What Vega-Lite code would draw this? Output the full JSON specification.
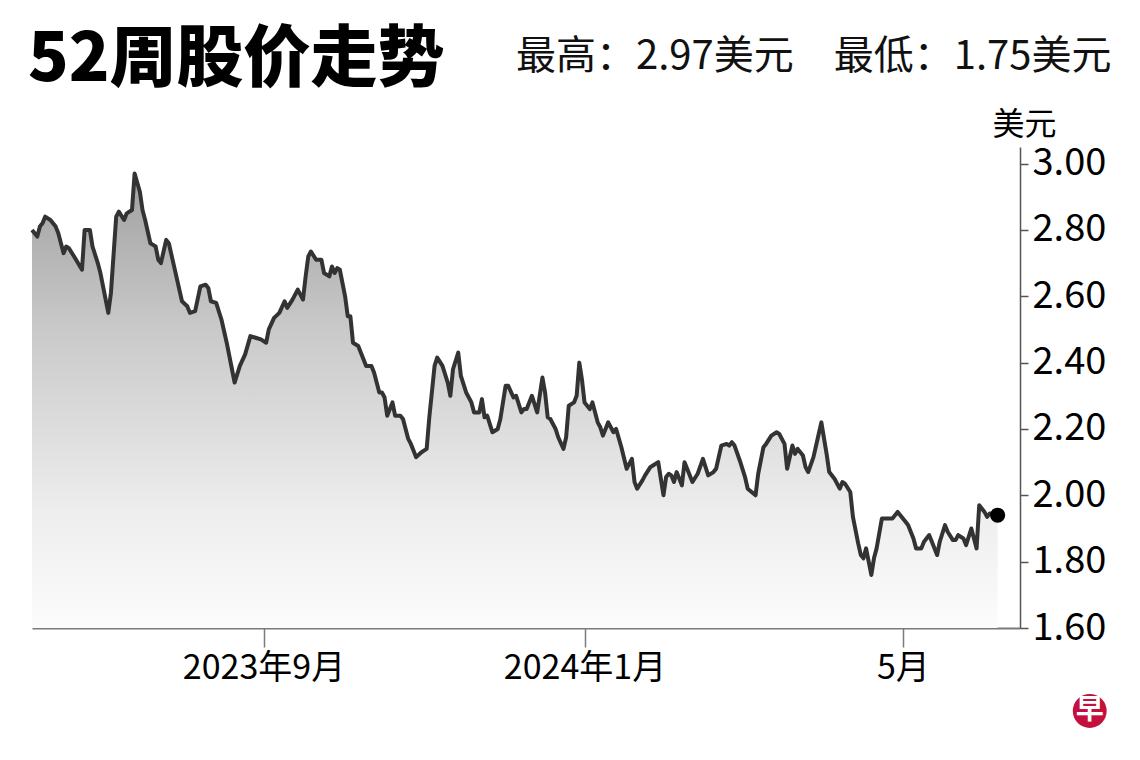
{
  "$schema": "https://vega.github.io/schema/vega-lite/v6.json",
  "width": 988,
  "height": 481,
  "autosize": {"type": "none"},
  "padding": {"left": 32, "top": 147, "right": 120, "bottom": 132},
  "background": "white",
  "config": {"view": {"stroke": null}, "font": "Noto Sans CJK SC"},

  "title": {
    "text": "52周股价走势",
    "subtitle": "\u200b\u3000\u3000\u3000\u3000\u3000\u3000\u3000\u3000\u3000\u3000\u3000\u3000\u2009最高：2.97美元\u3000最低：1.75美元",
    "anchor": "start",
    "frame": "group",
    "font": "Noto Sans CJK SC",
    "fontSize": 67,
    "fontWeight": 900,
    "color": "black",
    "subtitleFont": "Noto Sans CJK SC",
    "subtitleFontSize": 40,
    "subtitleColor": "#111111",
    "subtitlePadding": -58,
    "dx": -4,
    "offset": 13
  },

  "datasets": {
    "prices": [
      {"date": "2023-06-05", "price": 2.80},
      {"date": "2023-06-07", "price": 2.78},
      {"date": "2023-06-08", "price": 2.81},
      {"date": "2023-06-09", "price": 2.82},
      {"date": "2023-06-10", "price": 2.84},
      {"date": "2023-06-12", "price": 2.83},
      {"date": "2023-06-14", "price": 2.81},
      {"date": "2023-06-15", "price": 2.79},
      {"date": "2023-06-16", "price": 2.76},
      {"date": "2023-06-17", "price": 2.73},
      {"date": "2023-06-18", "price": 2.75},
      {"date": "2023-06-19", "price": 2.745},
      {"date": "2023-06-21", "price": 2.72},
      {"date": "2023-06-24", "price": 2.68},
      {"date": "2023-06-25", "price": 2.80},
      {"date": "2023-06-27", "price": 2.80},
      {"date": "2023-06-28", "price": 2.75},
      {"date": "2023-06-30", "price": 2.70},
      {"date": "2023-07-01", "price": 2.67},
      {"date": "2023-07-04", "price": 2.55},
      {"date": "2023-07-05", "price": 2.61},
      {"date": "2023-07-07", "price": 2.84},
      {"date": "2023-07-08", "price": 2.855},
      {"date": "2023-07-10", "price": 2.83},
      {"date": "2023-07-11", "price": 2.85},
      {"date": "2023-07-13", "price": 2.86},
      {"date": "2023-07-14", "price": 2.97},
      {"date": "2023-07-16", "price": 2.915},
      {"date": "2023-07-17", "price": 2.86},
      {"date": "2023-07-18", "price": 2.83},
      {"date": "2023-07-20", "price": 2.76},
      {"date": "2023-07-21", "price": 2.755},
      {"date": "2023-07-22", "price": 2.75},
      {"date": "2023-07-23", "price": 2.71},
      {"date": "2023-07-24", "price": 2.70},
      {"date": "2023-07-26", "price": 2.77},
      {"date": "2023-07-27", "price": 2.76},
      {"date": "2023-07-29", "price": 2.69},
      {"date": "2023-08-01", "price": 2.585},
      {"date": "2023-08-03", "price": 2.57},
      {"date": "2023-08-04", "price": 2.55},
      {"date": "2023-08-06", "price": 2.555},
      {"date": "2023-08-08", "price": 2.63},
      {"date": "2023-08-10", "price": 2.635},
      {"date": "2023-08-11", "price": 2.625},
      {"date": "2023-08-12", "price": 2.585},
      {"date": "2023-08-14", "price": 2.58},
      {"date": "2023-08-16", "price": 2.53},
      {"date": "2023-08-18", "price": 2.46},
      {"date": "2023-08-20", "price": 2.38},
      {"date": "2023-08-21", "price": 2.34},
      {"date": "2023-08-23", "price": 2.39},
      {"date": "2023-08-25", "price": 2.425},
      {"date": "2023-08-27", "price": 2.48},
      {"date": "2023-08-29", "price": 2.475},
      {"date": "2023-08-31", "price": 2.47},
      {"date": "2023-09-02", "price": 2.46},
      {"date": "2023-09-03", "price": 2.50},
      {"date": "2023-09-05", "price": 2.535},
      {"date": "2023-09-07", "price": 2.55},
      {"date": "2023-09-09", "price": 2.585},
      {"date": "2023-09-10", "price": 2.565},
      {"date": "2023-09-12", "price": 2.59},
      {"date": "2023-09-14", "price": 2.62},
      {"date": "2023-09-16", "price": 2.59},
      {"date": "2023-09-17", "price": 2.66},
      {"date": "2023-09-18", "price": 2.72},
      {"date": "2023-09-19", "price": 2.735},
      {"date": "2023-09-21", "price": 2.71},
      {"date": "2023-09-23", "price": 2.71},
      {"date": "2023-09-24", "price": 2.67},
      {"date": "2023-09-26", "price": 2.66},
      {"date": "2023-09-27", "price": 2.69},
      {"date": "2023-09-28", "price": 2.67},
      {"date": "2023-09-29", "price": 2.685},
      {"date": "2023-09-30", "price": 2.68},
      {"date": "2023-10-02", "price": 2.60},
      {"date": "2023-10-03", "price": 2.54},
      {"date": "2023-10-04", "price": 2.54},
      {"date": "2023-10-05", "price": 2.46},
      {"date": "2023-10-07", "price": 2.45},
      {"date": "2023-10-08", "price": 2.43},
      {"date": "2023-10-10", "price": 2.39},
      {"date": "2023-10-12", "price": 2.39},
      {"date": "2023-10-13", "price": 2.37},
      {"date": "2023-10-15", "price": 2.31},
      {"date": "2023-10-16", "price": 2.31},
      {"date": "2023-10-17", "price": 2.295},
      {"date": "2023-10-18", "price": 2.24},
      {"date": "2023-10-20", "price": 2.28},
      {"date": "2023-10-21", "price": 2.24},
      {"date": "2023-10-23", "price": 2.24},
      {"date": "2023-10-24", "price": 2.23},
      {"date": "2023-10-26", "price": 2.17},
      {"date": "2023-10-27", "price": 2.155},
      {"date": "2023-10-29", "price": 2.115},
      {"date": "2023-10-31", "price": 2.13},
      {"date": "2023-11-02", "price": 2.14},
      {"date": "2023-11-03", "price": 2.235},
      {"date": "2023-11-05", "price": 2.39},
      {"date": "2023-11-06", "price": 2.415},
      {"date": "2023-11-08", "price": 2.39},
      {"date": "2023-11-10", "price": 2.34},
      {"date": "2023-11-11", "price": 2.30},
      {"date": "2023-11-12", "price": 2.38},
      {"date": "2023-11-14", "price": 2.43},
      {"date": "2023-11-15", "price": 2.36},
      {"date": "2023-11-17", "price": 2.31},
      {"date": "2023-11-19", "price": 2.28},
      {"date": "2023-11-20", "price": 2.25},
      {"date": "2023-11-22", "price": 2.25},
      {"date": "2023-11-23", "price": 2.29},
      {"date": "2023-11-24", "price": 2.235},
      {"date": "2023-11-25", "price": 2.24},
      {"date": "2023-11-27", "price": 2.19},
      {"date": "2023-11-29", "price": 2.20},
      {"date": "2023-11-30", "price": 2.23},
      {"date": "2023-12-02", "price": 2.33},
      {"date": "2023-12-03", "price": 2.33},
      {"date": "2023-12-05", "price": 2.295},
      {"date": "2023-12-06", "price": 2.30},
      {"date": "2023-12-08", "price": 2.25},
      {"date": "2023-12-09", "price": 2.26},
      {"date": "2023-12-10", "price": 2.26},
      {"date": "2023-12-12", "price": 2.30},
      {"date": "2023-12-14", "price": 2.25},
      {"date": "2023-12-16", "price": 2.355},
      {"date": "2023-12-17", "price": 2.31},
      {"date": "2023-12-18", "price": 2.235},
      {"date": "2023-12-19", "price": 2.23},
      {"date": "2023-12-21", "price": 2.20},
      {"date": "2023-12-22", "price": 2.175},
      {"date": "2023-12-24", "price": 2.14},
      {"date": "2023-12-25", "price": 2.175},
      {"date": "2023-12-26", "price": 2.27},
      {"date": "2023-12-28", "price": 2.28},
      {"date": "2023-12-29", "price": 2.30},
      {"date": "2023-12-30", "price": 2.40},
      {"date": "2023-12-31", "price": 2.35},
      {"date": "2024-01-01", "price": 2.28},
      {"date": "2024-01-03", "price": 2.26},
      {"date": "2024-01-04", "price": 2.28},
      {"date": "2024-01-06", "price": 2.22},
      {"date": "2024-01-07", "price": 2.205},
      {"date": "2024-01-08", "price": 2.18},
      {"date": "2024-01-10", "price": 2.22},
      {"date": "2024-01-12", "price": 2.19},
      {"date": "2024-01-13", "price": 2.20},
      {"date": "2024-01-15", "price": 2.145},
      {"date": "2024-01-17", "price": 2.08},
      {"date": "2024-01-19", "price": 2.11},
      {"date": "2024-01-20", "price": 2.04},
      {"date": "2024-01-21", "price": 2.02},
      {"date": "2024-01-23", "price": 2.045},
      {"date": "2024-01-24", "price": 2.06},
      {"date": "2024-01-26", "price": 2.085},
      {"date": "2024-01-27", "price": 2.09},
      {"date": "2024-01-29", "price": 2.10},
      {"date": "2024-01-31", "price": 2.00},
      {"date": "2024-02-01", "price": 2.055},
      {"date": "2024-02-02", "price": 2.065},
      {"date": "2024-02-03", "price": 2.06},
      {"date": "2024-02-04", "price": 2.04},
      {"date": "2024-02-05", "price": 2.07},
      {"date": "2024-02-07", "price": 2.03},
      {"date": "2024-02-08", "price": 2.10},
      {"date": "2024-02-09", "price": 2.08},
      {"date": "2024-02-11", "price": 2.04},
      {"date": "2024-02-13", "price": 2.065},
      {"date": "2024-02-15", "price": 2.11},
      {"date": "2024-02-17", "price": 2.06},
      {"date": "2024-02-19", "price": 2.07},
      {"date": "2024-02-20", "price": 2.08},
      {"date": "2024-02-22", "price": 2.15},
      {"date": "2024-02-24", "price": 2.155},
      {"date": "2024-02-25", "price": 2.15},
      {"date": "2024-02-26", "price": 2.16},
      {"date": "2024-02-27", "price": 2.15},
      {"date": "2024-02-29", "price": 2.105},
      {"date": "2024-03-02", "price": 2.055},
      {"date": "2024-03-03", "price": 2.02},
      {"date": "2024-03-06", "price": 2.00},
      {"date": "2024-03-07", "price": 2.065},
      {"date": "2024-03-09", "price": 2.145},
      {"date": "2024-03-10", "price": 2.155},
      {"date": "2024-03-12", "price": 2.18},
      {"date": "2024-03-14", "price": 2.19},
      {"date": "2024-03-15", "price": 2.185},
      {"date": "2024-03-17", "price": 2.155},
      {"date": "2024-03-18", "price": 2.08},
      {"date": "2024-03-20", "price": 2.15},
      {"date": "2024-03-21", "price": 2.125},
      {"date": "2024-03-22", "price": 2.14},
      {"date": "2024-03-24", "price": 2.12},
      {"date": "2024-03-25", "price": 2.085},
      {"date": "2024-03-26", "price": 2.07},
      {"date": "2024-03-28", "price": 2.115},
      {"date": "2024-03-30", "price": 2.185},
      {"date": "2024-03-31", "price": 2.22},
      {"date": "2024-04-02", "price": 2.125},
      {"date": "2024-04-03", "price": 2.07},
      {"date": "2024-04-05", "price": 2.05},
      {"date": "2024-04-07", "price": 2.02},
      {"date": "2024-04-08", "price": 2.04},
      {"date": "2024-04-09", "price": 2.035},
      {"date": "2024-04-11", "price": 2.01},
      {"date": "2024-04-12", "price": 1.935},
      {"date": "2024-04-14", "price": 1.855},
      {"date": "2024-04-15", "price": 1.82},
      {"date": "2024-04-16", "price": 1.81},
      {"date": "2024-04-17", "price": 1.84},
      {"date": "2024-04-19", "price": 1.76},
      {"date": "2024-04-20", "price": 1.81},
      {"date": "2024-04-21", "price": 1.84},
      {"date": "2024-04-23", "price": 1.93},
      {"date": "2024-04-25", "price": 1.93},
      {"date": "2024-04-27", "price": 1.93},
      {"date": "2024-04-29", "price": 1.95},
      {"date": "2024-04-30", "price": 1.94},
      {"date": "2024-05-02", "price": 1.92},
      {"date": "2024-05-03", "price": 1.91},
      {"date": "2024-05-05", "price": 1.87},
      {"date": "2024-05-06", "price": 1.84},
      {"date": "2024-05-08", "price": 1.84},
      {"date": "2024-05-09", "price": 1.86},
      {"date": "2024-05-11", "price": 1.88},
      {"date": "2024-05-12", "price": 1.86},
      {"date": "2024-05-14", "price": 1.82},
      {"date": "2024-05-15", "price": 1.86},
      {"date": "2024-05-17", "price": 1.91},
      {"date": "2024-05-18", "price": 1.89},
      {"date": "2024-05-20", "price": 1.865},
      {"date": "2024-05-21", "price": 1.865},
      {"date": "2024-05-22", "price": 1.88},
      {"date": "2024-05-24", "price": 1.87},
      {"date": "2024-05-25", "price": 1.85},
      {"date": "2024-05-27", "price": 1.90},
      {"date": "2024-05-28", "price": 1.87},
      {"date": "2024-05-29", "price": 1.84},
      {"date": "2024-05-30", "price": 1.97},
      {"date": "2024-06-01", "price": 1.95},
      {"date": "2024-06-02", "price": 1.935},
      {"date": "2024-06-03", "price": 1.945},
      {"date": "2024-06-06", "price": 1.94}
    ]
  },

  "data": {"name": "prices"},

  "encoding": {
    "x": {
      "field": "date",
      "type": "temporal",
      "title": null,
      "scale": {
        "type": "utc",
        "domain": [
          {"year": 2023, "month": 6, "date": 5, "utc": true},
          {"year": 2024, "month": 6, "date": 14, "hours": 12, "utc": true}
        ]
      },
      "axis": {
        "orient": "bottom",
        "values": [
          {"year": 2023, "month": 9, "date": 1, "utc": true},
          {"year": 2024, "month": 1, "date": 1, "utc": true},
          {"year": 2024, "month": 5, "date": 1, "utc": true}
        ],
        "labelExpr": "utcmonth(datum.value) == 4 ? '5月' : utcFormat(datum.value, '%Y年%-m月')",
        "grid": false,
        "domainColor": "#7a7a7a",
        "domainWidth": 2,
        "tickColor": "#7a7a7a",
        "tickWidth": 1.5,
        "tickSize": 19,
        "labelFont": "Noto Sans CJK SC",
        "labelFontSize": 34,
        "labelColor": "black",
        "labelPadding": 4
      }
    },
    "y": {
      "field": "price",
      "type": "quantitative",
      "scale": {"domain": [1.6, 3.05], "zero": false, "nice": false},
      "axis": {
        "orient": "right",
        "values": [1.6, 1.8, 2.0, 2.2, 2.4, 2.6, 2.8, 3.0],
        "format": ".2f",
        "grid": false,
        "domainColor": "#555555",
        "domainWidth": 1.5,
        "tickColor": "#555555",
        "tickWidth": 1.5,
        "tickSize": 8,
        "labelFont": "Noto Sans CJK SC",
        "labelFontSize": 38,
        "labelColor": "black",
        "labelPadding": 4,
        "title": "美元",
        "titleFont": "Noto Sans CJK SC",
        "titleFontSize": 32,
        "titleFontWeight": "normal",
        "titleColor": "black",
        "titleAngle": 0,
        "titleAlign": "center",
        "titleBaseline": "bottom",
        "titleX": 4,
        "titleY": -6
      }
    }
  },

  "layer": [
    {
      "mark": {
        "type": "area",
        "color": {
          "gradient": "linear",
          "x1": 0, "y1": 0, "x2": 0, "y2": 1,
          "stops": [
            {"offset": 0, "color": "#a0a0a0"},
            {"offset": 0.35, "color": "#cacaca"},
            {"offset": 0.75, "color": "#eeeeee"},
            {"offset": 1, "color": "#fcfcfc"}
          ]
        }
      },
      "encoding": {"y2": {"datum": 1.6}}
    },
    {
      "data": {"values": [
        {"price": 1.8}, {"price": 2.0}, {"price": 2.2}, {"price": 2.4},
        {"price": 2.6}, {"price": 2.8}, {"price": 3.0}
      ]},
      "mark": {"type": "rule", "color": "#e2e2e2", "strokeWidth": 2},
      "encoding": {
        "x": {"datum": {"year": 2023, "month": 6, "date": 5, "utc": true}, "type": "temporal"},
        "x2": {"datum": {"year": 2024, "month": 6, "date": 7, "utc": true}}
      }
    },
    {
      "mark": {"type": "line", "color": "#333333", "strokeWidth": 4, "strokeJoin": "round"}
    },
    {
      "transform": [
        {"filter": {"field": "date", "equal": {"year": 2024, "month": 6, "date": 6, "utc": true}}}
      ],
      "mark": {"type": "point", "filled": true, "color": "black", "opacity": 1, "size": 230}
    },
    {
      "data": {"values": [{"logo": "早", "date": "2024-07-11", "price": 1.35}]},
      "mark": {"type": "point", "shape": "circle", "filled": true, "color": "#c4103c", "opacity": 1, "size": 1150, "clip": false}
    },
    {
      "data": {"values": [{"logo": "早", "date": "2024-07-11", "price": 1.35}]},
      "mark": {"type": "text", "color": "white", "fontSize": 28, "fontWeight": "bold", "font": "Noto Sans CJK SC", "baseline": "middle", "align": "center", "clip": false},
      "encoding": {"text": {"field": "logo"}}
    }
  ]
}
